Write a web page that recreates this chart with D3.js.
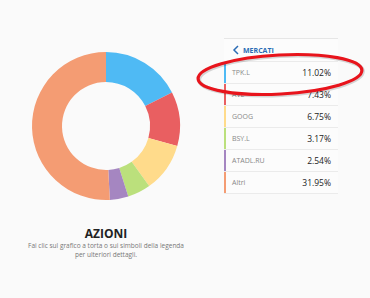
<!DOCTYPE html>
<html>
<head>
<meta charset="utf-8">
<script src="https://cdn.jsdelivr.net/npm/d3@7"></script>
<style>
  body { margin: 0; background: #fafafa; font-family: "Open Sans", "Noto Sans", sans-serif; }
</style>
</head>
<body>
<div id="chart-container"></div>
<script>
var tickers = ["TPK.L", "AVL", "GOOG", "BSY.L", "ATADL.RU", "Altri"];
var weights = [11.02, 7.43, 6.75, 3.17, 2.54, 31.95];
var colors = ["#4fbaf4", "#e95f61", "#ffdb8b", "#bbe07c", "#a586c1", "#f49c73"];

var width = 370, height = 298;

var svg = d3.select("#chart-container")
    .append("svg")
    .attr("width", width)
    .attr("height", height);

svg.append("rect").attr("width", width).attr("height", height).attr("fill", "#fafafa");

// Donut
var pieData = tickers.map(function (t, i) { return { name: t, value: weights[i], color: colors[i] }; });
var pie = d3.pie().sort(null).value(function (d) { return d.value; });
var arc = d3.arc().innerRadius(44).outerRadius(74);

var donut = svg.append("g").attr("transform", "translate(106,126)");
donut.selectAll("path")
    .data(pie(pieData))
    .enter()
    .append("path")
    .attr("d", arc)
    .attr("fill", function (d) { return d.data.color; });

// Title
svg.append("text")
    .attr("x", 106).attr("y", 238)
    .attr("text-anchor", "middle")
    .style("font-size", "12px")
    .style("font-weight", "bold")
    .attr("fill", "#222")
    .text("AZIONI");

var sub = ["Fai clic sul grafico a torta o sui simboli della legenda", "per ulteriori dettagli."];
svg.selectAll(".sub")
    .data(sub)
    .enter()
    .append("text")
    .attr("class", "sub")
    .attr("x", 106)
    .attr("y", function (d, i) { return 247.5 + i * 9; })
    .attr("text-anchor", "middle")
    .style("font-size", "6.5px")
    .attr("fill", "#777")
    .text(function (d) { return d; });

// Legend panel
var lx = 224, lw = 114, rowH = 22, rowTop = 61;
var legend = svg.append("g");
legend.append("rect")
    .attr("x", lx).attr("y", 38).attr("width", lw).attr("height", 156)
    .attr("fill", "#fcfcfc");
legend.append("line")
    .attr("x1", lx).attr("x2", lx + lw).attr("y1", 38.5).attr("y2", 38.5)
    .attr("stroke", "#e6e6e6");

legend.append("path")
    .attr("d", "M238,46 L234,50 L238,54")
    .attr("fill", "none").attr("stroke", "#2b6cb5").attr("stroke-width", 1.5);
legend.append("text")
    .attr("x", 243).attr("y", 53)
    .style("font-size", "7px").style("font-weight", "bold")
    .attr("fill", "#2b6cb5")
    .text("MERCATI");

var y = d3.scaleBand().domain(tickers).range([rowTop, rowTop + rowH * tickers.length]);

var rows = legend.selectAll(".row")
    .data(pieData)
    .enter()
    .append("g")
    .attr("class", "row")
    .attr("transform", function (d) { return "translate(0," + y(d.name) + ")"; });

rows.append("line")
    .attr("x1", lx).attr("x2", lx + lw).attr("y1", 0.5).attr("y2", 0.5)
    .attr("stroke", "#ebebeb");
rows.append("rect")
    .attr("x", lx).attr("y", 1).attr("width", 2).attr("height", rowH - 1)
    .attr("fill", function (d) { return d.color; });
rows.append("text")
    .attr("x", 232).attr("y", 14)
    .style("font-size", "7px")
    .attr("fill", "#888")
    .text(function (d) { return d.name; });
rows.append("text")
    .attr("x", 331).attr("y", 14.5)
    .attr("text-anchor", "end")
    .style("font-size", "8.5px")
    .attr("fill", "#222")
    .text(function (d) { return d3.format(".2f")(d.value) + "%"; });

legend.append("line")
    .attr("x1", lx).attr("x2", lx + lw)
    .attr("y1", rowTop + rowH * tickers.length + 0.5).attr("y2", rowTop + rowH * tickers.length + 0.5)
    .attr("stroke", "#ebebeb");

// Red highlight ellipse (with faint shadow)
svg.append("ellipse")
    .attr("transform", "translate(281,75.5) rotate(-3)")
    .attr("rx", 82).attr("ry", 19.5)
    .attr("fill", "none")
    .attr("stroke", "#000")
    .attr("stroke-opacity", 0.15)
    .attr("stroke-width", 4);
svg.append("ellipse")
    .attr("transform", "translate(280,74.5) rotate(-3)")
    .attr("rx", 82).attr("ry", 19.5)
    .attr("fill", "none")
    .attr("stroke", "#e8141c")
    .attr("stroke-width", 3.2);
</script>
</body>
</html>
